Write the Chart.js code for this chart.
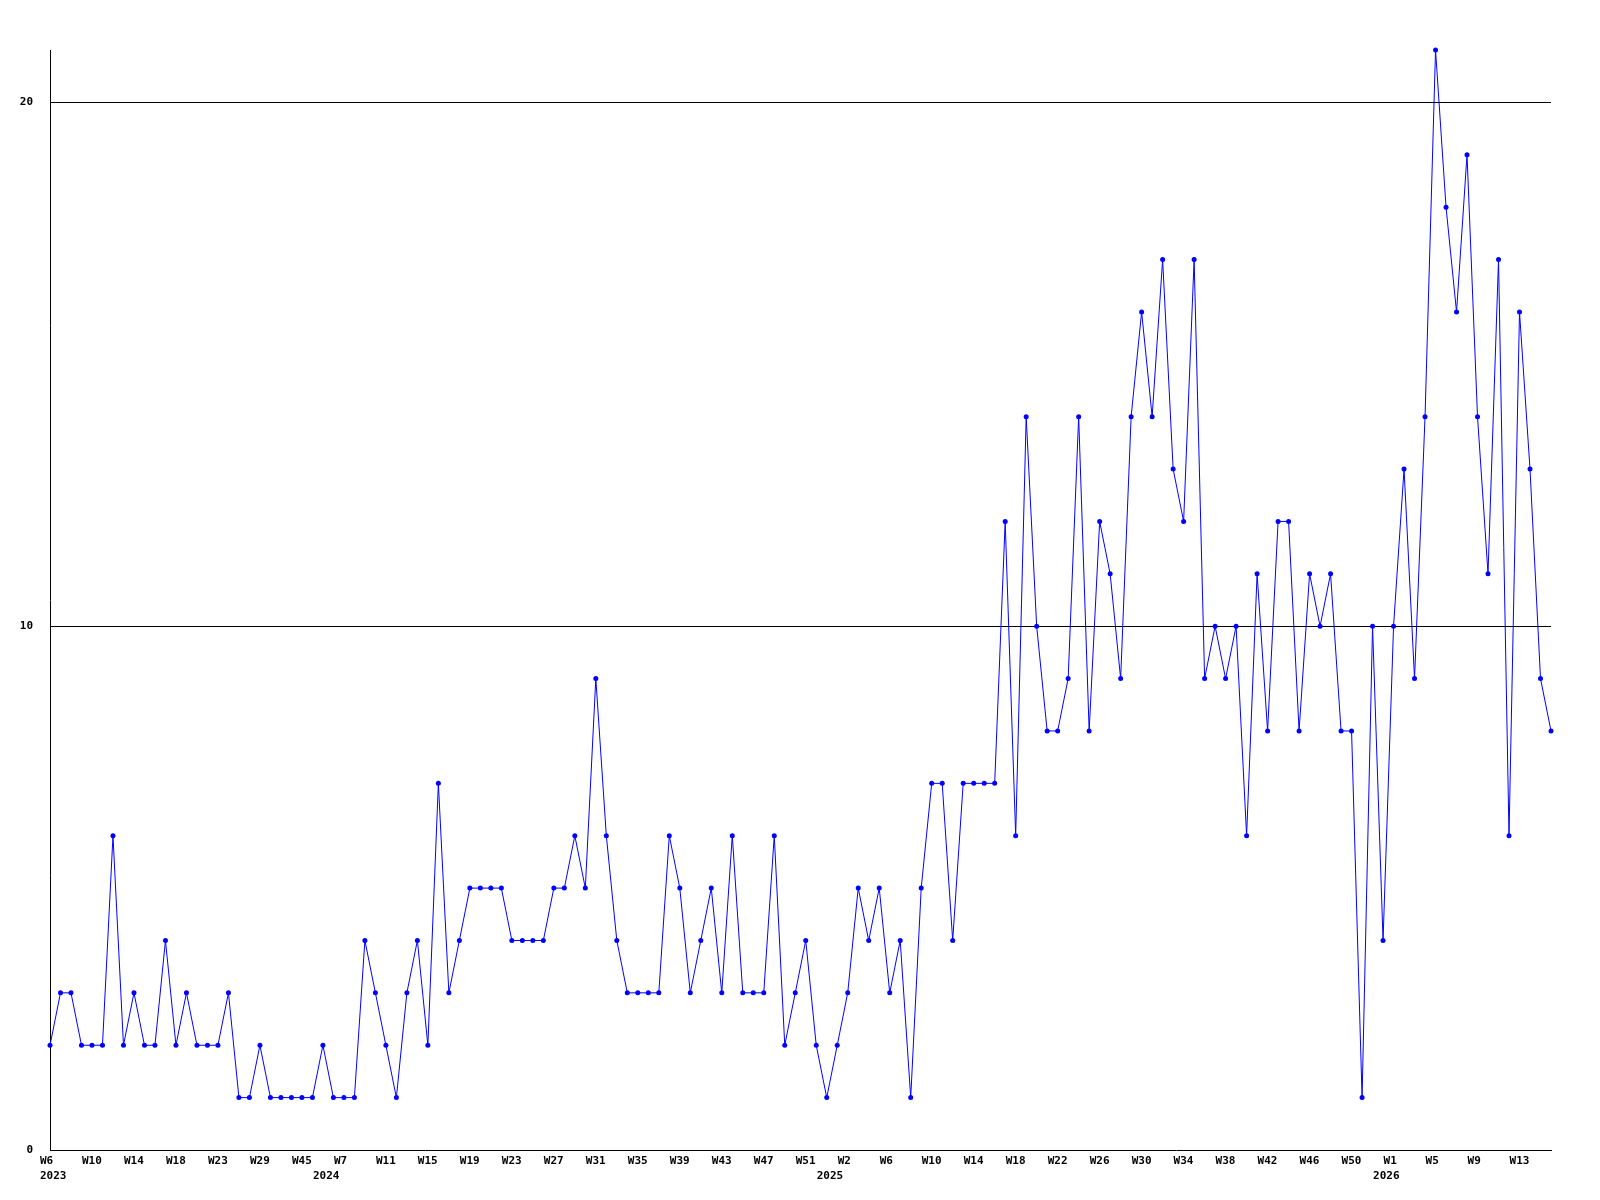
<!DOCTYPE html>
<html>
<head>
<meta charset="utf-8">
<script src="https://cdn.jsdelivr.net/npm/chart.js@4.4.1/dist/chart.umd.min.js"></script>
<style>
  body { margin: 0; background: #fff; }
  canvas { display: block; }
</style>
</head>
<body>
<canvas id="weekChart" width="1600" height="1200"></canvas>
<script>
// semanas por año (numeracion %W, lunes primero)
const weeks2023 = [6, 7, 8, 9, 10, 11, 12, 13, 14, 15, 16, 17, 18, 19, 20, 22, 23, 24, 26, 27, 29, 31, 36, 41, 45, 49];
const weeks2024 = [2, 4, 7, 8, 9, 10, 11, 12, 13, 14, 15, 16, 17, 18, 19, 20, 21, 22, 23, 24, 25, 26, 27, 28, 29, 30,
  31, 32, 33, 34, 35, 36, 37, 38, 39, 40, 41, 42, 43, 44, 45, 46, 47, 48, 49, 50, 51, 52];
const weeks2025 = [0, 1, 2, 3, 4, 5, 6, 7, 8, 9, 10, 11, 12, 13, 14, 15, 16, 17, 18, 19, 20, 21, 22, 23, 24, 25, 26,
  27, 28, 29, 30, 31, 32, 33, 34, 35, 36, 37, 38, 39, 40, 41, 42, 43, 44, 45, 46, 47, 48, 49, 50, 51, 52];
const weeks2026 = [0, 1, 2, 3, 4, 5, 6, 7, 8, 9, 10, 11, 12, 13, 14, 15, 16];

// valores semanales
const values = [
  2, 3, 3, 2, 2, 2, 6, 2, 3, 2,
  2, 4, 2, 3, 2, 2, 2, 3, 1, 1,
  2, 1, 1, 1, 1, 1, 2, 1, 1, 1,
  4, 3, 2, 1, 3, 4, 2, 7, 3, 4,
  5, 5, 5, 5, 4, 4, 4, 4, 5, 5,
  6, 5, 9, 6, 4, 3, 3, 3, 3, 6,
  5, 3, 4, 5, 3, 6, 3, 3, 3, 6,
  2, 3, 4, 2, 1, 2, 3, 5, 4, 5,
  3, 4, 1, 5, 7, 7, 4, 7, 7, 7,
  7, 12, 6, 14, 10, 8, 8, 9, 14, 8,
  12, 11, 9, 14, 16, 14, 17, 13, 12, 17,
  9, 10, 9, 10, 6, 11, 8, 12, 12, 8,
  11, 10, 11, 8, 8, 1, 10, 4, 10, 13,
  9, 14, 21, 18, 16, 19, 14, 11, 17, 6,
  16, 13, 9, 8
];

const yTicks = [0, 10, 20];
const labelEvery = 4;

// categorias: semana + año
const segments = [[2023, weeks2023], [2024, weeks2024], [2025, weeks2025], [2026, weeks2026]];
const weekLabels = [];
const years = [];
segments.forEach(([year, list]) => {
  list.forEach(w => {
    weekLabels.push('W' + w);
    years.push(year);
  });
});

const font = { family: '"DejaVu Sans Mono", monospace', size: 11, weight: 'bold', lineHeight: '15px' };

new Chart(document.getElementById('weekChart'), {
  type: 'line',
  data: {
    labels: weekLabels,
    datasets: [{
      data: values,
      borderColor: '#0000ff',
      backgroundColor: '#0000ff',
      borderWidth: 1,
      tension: 0,
      clip: false,
      pointStyle: 'circle',
      pointRadius: 2.5,
      pointBorderWidth: 0,
      pointHoverRadius: 2.5
    }]
  },
  options: {
    responsive: false,
    animation: false,
    layout: { padding: { top: 50, right: 49, left: 0, bottom: 0 } },
    plugins: {
      legend: { display: false },
      tooltip: { enabled: false }
    },
    scales: {
      x: {
        type: 'category',
        offset: false,
        grid: { display: false, drawTicks: false },
        border: { display: true, color: '#000', width: 1 },
        afterFit: (scale) => { scale.height = 50; },
        ticks: {
          autoSkip: false,
          maxRotation: 0,
          minRotation: 0,
          align: 'start',
          labelOffset: -10,
          padding: 4,
          color: '#000',
          font: font,
          callback: (value, index) => {
            const week = index % labelEvery === 0 ? weekLabels[index] : '';
            const newYear = index === 0 || years[index] !== years[index - 1];
            if (newYear) return [week, String(years[index])];
            return week;
          }
        }
      },
      y: {
        min: 0,
        max: 21,
        afterFit: (scale) => { scale.width = 50; },
        afterBuildTicks: (scale) => { scale.ticks = yTicks.map(v => ({ value: v })); },
        grid: {
          drawTicks: false,
          lineWidth: 1,
          color: (ctx) => ctx.tick && ctx.tick.value === 0 ? 'rgba(0,0,0,0)' : '#000'
        },
        border: { display: true, color: '#000', width: 1 },
        ticks: {
          padding: 17,
          color: '#000',
          font: font
        }
      }
    }
  }
});
</script>
</body>
</html>
